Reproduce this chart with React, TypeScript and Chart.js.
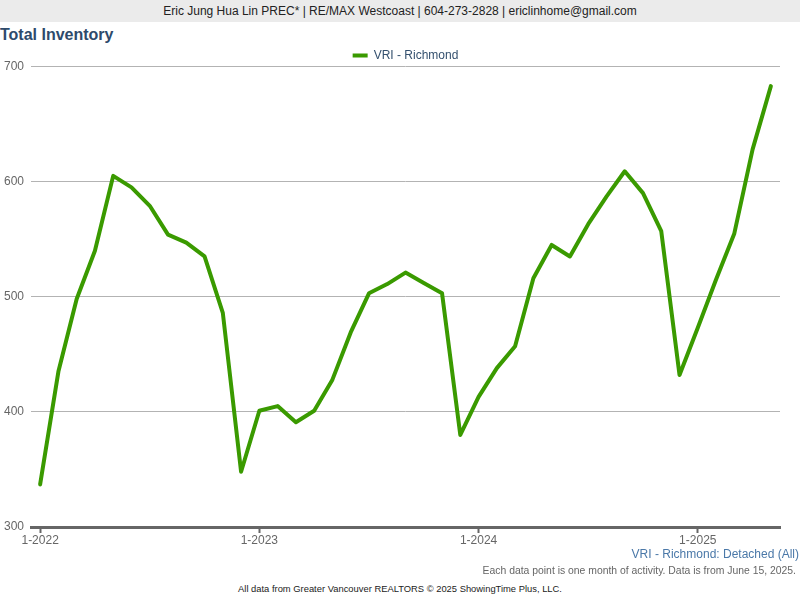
import React, { useEffect, useRef } from "react";
import { Chart, registerables } from "chart.js";

Chart.register(...registerables);

const years = ["2022", "2023", "2024", "2025"];
const months = [1, 2, 3, 4, 5, 6, 7, 8, 9, 10, 11, 12];
const monthLabels: string[] = [];
years.forEach((y) => months.forEach((m) => monthLabels.push(`${m}-${y}`)));
const labels = monthLabels.slice(0, 41);

const inventory = [
  337, 435, 498, 540, 605, 595, 579, 554, 547, 535, 486, 348,
  401, 405, 391, 401, 428, 469, 503, 511, 521, 512, 503, 380,
  413, 438, 457, 516, 545, 535, 563, 587, 609, 590, 557, 432,
  473, 515, 555, 628, 683,
];

const seriesName = "VRI - Richmond";
const yTicks = [300, 400, 500, 600, 700];
const GREEN = "#3a9a00";
const FONT = "'Liberation Sans', Arial, sans-serif";

export default function App() {
  const ref = useRef<HTMLCanvasElement | null>(null);

  useEffect(() => {
    if (!ref.current) return;
    const chart = new Chart(ref.current, {
      type: "line",
      data: {
        labels,
        datasets: [
          {
            label: seriesName,
            data: inventory,
            borderColor: GREEN,
            backgroundColor: GREEN,
            borderWidth: 4,
            pointRadius: 0,
            tension: 0,
            borderCapStyle: "round",
            borderJoinStyle: "round",
          },
        ],
      },
      options: {
        animation: false,
        responsive: false,
        maintainAspectRatio: false,
        layout: { padding: { left: 0, right: 20, top: 0, bottom: 0 } },
        plugins: {
          legend: {
            display: true,
            position: "top",
            fullSize: false,
            maxHeight: 26.5,
            labels: {
              boxWidth: 15,
              boxHeight: 4,
              padding: 9.5,
              color: "#34506e",
              font: { family: FONT, size: 12 },
              generateLabels: (c: any) =>
                (Chart.defaults.plugins.legend.labels as any)
                  .generateLabels(c)
                  .map((l: any) => ({ ...l, lineWidth: 0 })),
            },
          },
          tooltip: { enabled: false },
        },
        scales: {
          x: {
            type: "category",
            offset: true,
            afterFit: (axis: any) => {
              axis.height = 22;
            },
            grid: {
              drawOnChartArea: false,
              drawTicks: true,
              tickLength: 6,
              tickWidth: 2,
              tickColor: (ctx: any) =>
                ctx.tick && ctx.index % 12 === 0 ? "#666666" : "rgba(0,0,0,0)",
            },
            border: { display: true, color: "#666666", width: 3 },
            ticks: {
              autoSkip: false,
              maxRotation: 0,
              minRotation: 0,
              color: "#666666",
              padding: 0,
              font: { family: FONT, size: 12 },
              callback: (_v: any, i: number) => (i % 12 === 0 ? labels[i] : ""),
            },
          },
          y: {
            type: "linear",
            min: yTicks[0],
            max: yTicks[yTicks.length - 1],
            afterBuildTicks: (axis: any) => {
              axis.ticks = yTicks.map((v) => ({ value: v }));
            },
            afterFit: (axis: any) => {
              axis.width = 31;
            },
            grid: { color: "#b3b3b3", lineWidth: 1, drawTicks: false },
            border: { display: false },
            ticks: {
              color: "#666666",
              padding: 7,
              font: { family: FONT, size: 12 },
            },
          },
        },
      },
    });
    return () => chart.destroy();
  }, []);

  return (
    <div
      style={{
        position: "fixed",
        left: 0,
        top: 0,
        width: 800,
        height: 600,
        background: "#ffffff",
        fontFamily: FONT,
        overflow: "hidden",
      }}
    >
      <div
        style={{
          position: "absolute",
          left: 0,
          top: 0,
          width: 800,
          height: 22,
          background: "#ebebeb",
          color: "#222",
          fontSize: 12,
          lineHeight: "22px",
          textAlign: "center",
        }}
      >
        Eric Jung Hua Lin PREC* | RE/MAX Westcoast | 604-273-2828 | ericlinhome@gmail.com
      </div>
      <div
        style={{
          position: "absolute",
          left: 0,
          top: 25,
          fontSize: 16,
          fontWeight: "bold",
          color: "#2e4a6b",
          lineHeight: "20px",
        }}
      >
        Total Inventory
      </div>
      <canvas
        ref={ref}
        width={800}
        height={509}
        style={{ position: "absolute", left: 0, top: 40, width: 800, height: 509 }}
      />
      <div
        style={{
          position: "absolute",
          right: 1,
          top: 546,
          fontSize: 12,
          color: "#4a78a8",
          lineHeight: "16px",
        }}
      >
        VRI - Richmond: Detached (All)
      </div>
      <div
        style={{
          position: "absolute",
          right: 4,
          top: 564,
          fontSize: 10.4,
          color: "#666666",
          lineHeight: "14px",
        }}
      >
        Each data point is one month of activity. Data is from June 15, 2025.
      </div>
      <div
        style={{
          position: "absolute",
          left: 0,
          width: 800,
          top: 583,
          fontSize: 9.4,
          color: "#222",
          textAlign: "center",
          lineHeight: "12px",
        }}
      >
        All data from Greater Vancouver REALTORS © 2025 ShowingTime Plus, LLC.
      </div>
    </div>
  );
}
